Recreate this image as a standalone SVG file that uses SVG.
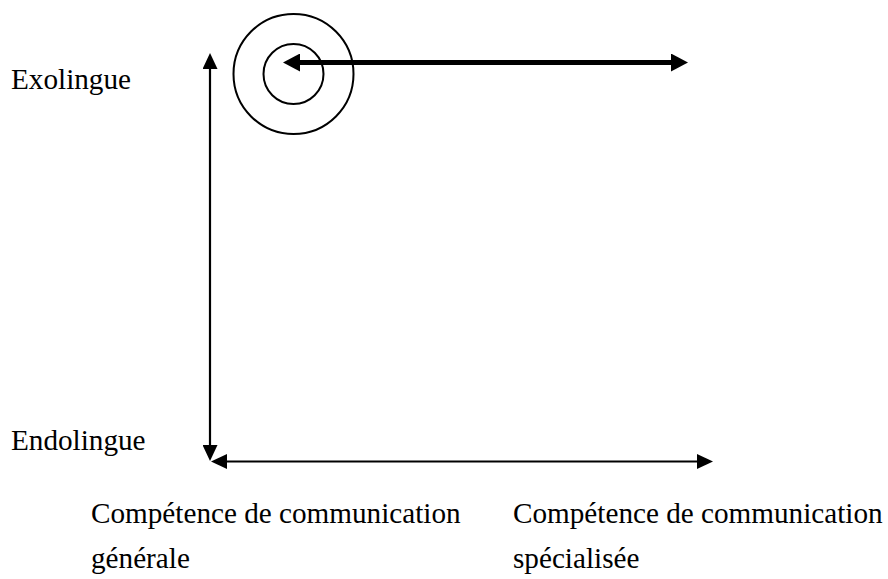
<svg xmlns="http://www.w3.org/2000/svg" width="888" height="579" viewBox="0 0 888 579">
  <style>
    .lbl { font-family: "Liberation Serif", "Times New Roman", serif; font-size: 29.2px; fill: #000; }
    .ring { fill: none; stroke: #000; stroke-width: 2; }
    .axis { fill: none; stroke: #000; stroke-width: 2.2; }
    .bold { fill: none; stroke: #000; stroke-width: 5; }
  </style>
  <defs>
    <marker id="thinHead" markerUnits="userSpaceOnUse" markerWidth="16" markerHeight="15" refX="2" refY="7.5" orient="auto-start-reverse">
      <path d="M0,0 L16,7.5 L0,15 z" fill="#000"/>
    </marker>
    <marker id="boldHead" markerUnits="userSpaceOnUse" markerWidth="17" markerHeight="18" refX="2" refY="9" orient="auto-start-reverse">
      <path d="M0,0 L17,9 L0,18 z" fill="#000"/>
    </marker>
  </defs>

  <!-- concentric target -->
  <g id="target">
    <circle class="ring" cx="293.5" cy="74" r="60"/>
    <circle class="ring" cx="293.5" cy="74" r="30"/>
  </g>

  <!-- axes and arrows -->
  <g id="connectors">
    <line class="axis" x1="210" y1="67" x2="210" y2="447" marker-start="url(#thinHead)" marker-end="url(#thinHead)"/>
    <line class="axis" x1="225" y1="461.5" x2="699" y2="461.5" marker-start="url(#thinHead)" marker-end="url(#thinHead)"/>
    <line class="bold" x1="298" y1="62.5" x2="673" y2="62.5" marker-start="url(#boldHead)" marker-end="url(#boldHead)"/>
  </g>

  <g id="exolingue"><text class="lbl" x="11" y="89">Exolingue</text></g>
  <g id="endolingue"><text class="lbl" x="11" y="450">Endolingue</text></g>
  <g id="generale">
    <text class="lbl" x="91" y="522.5">Compétence de communication</text>
    <text class="lbl" x="91" y="568">générale</text>
  </g>
  <g id="specialisee">
    <text class="lbl" x="513" y="522.5">Compétence de communication</text>
    <text class="lbl" x="513" y="568">spécialisée</text>
  </g>
</svg>
